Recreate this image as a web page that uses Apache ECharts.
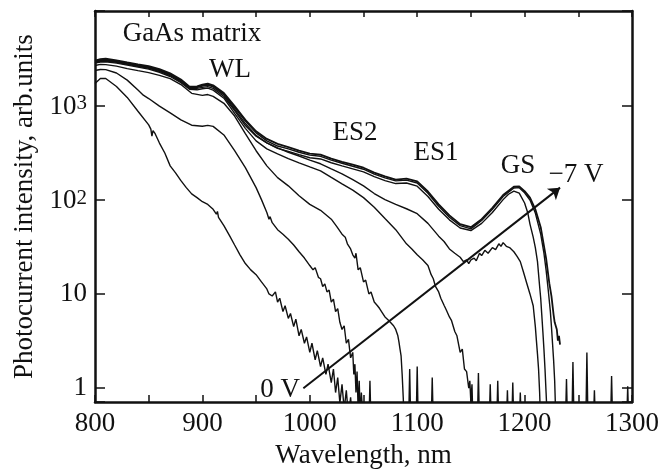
<!DOCTYPE html>
<html>
<head>
<meta charset="utf-8">
<title>Photocurrent spectra</title>
<script src="https://cdn.jsdelivr.net/npm/echarts@6.0.0/dist/echarts.min.js"></script>
</head>
<body style="margin:0">
	<div id="main" style="width: 666px; height: 474px;"></div>
	<script type="text/javascript">
		// spectra, [wavelength nm, photocurrent arb.units]
		var curve0V = [[800,1706],[805,1924],[810,1924],[820,1585],[830,1213],[840,865],[850,620],[852,560],[853,470],[854,540],[856,500],[860,398],[865,312],[870,228],[875,192],[880,159],[885,134],[890,115],[895,105],[900,95],[905,89],[910,79],[913,70],[914,75],[915,65],[920,53],[925,42],[930,33],[935,26],[940,21],[945,18],[950,16],[955,13.4],[960,11.3],[962,10],[965,9.5],[968,10.5],[970,8.2],[972,9],[975,6.5],[977,7.5],[980,5.5],[982,6.2],[985,4.5],[987,5.4],[990,3.6],[992,4.2],[995,3.0],[997,3.5],[1000,2.4],[1002,3.0],[1005,2.0],[1007,2.5],[1010,1.7],[1012,2.1],[1015,1.4],[1017,1.8],[1020,1.15],[1022,1.6],[1024,0.9],[1026,1.3],[1028,0.7],[1030,1.1],[1032,0.6],[1034,0.95],[1036,0.5],[1038,0.8],[1040,0.4],[1042,0.7],[1045,0.4]];
		var curve1V = [[800,2340],[805,2400],[810,2390],[820,2200],[830,1850],[840,1450],[845,1280],[850,1180],[860,980],[870,830],[880,700],[890,615],[900,600],[905,612],[910,598],[920,485],[930,330],[940,218],[950,134],[955,100],[960,73],[962,62],[963,66],[965,57],[970,48],[975,43],[980,38],[985,33],[990,28],[995,24],[1000,20],[1003,18],[1005,19],[1008,15],[1010,14.5],[1012,12],[1014,12.8],[1016,10.5],[1018,11],[1020,8.2],[1022,8.8],[1024,6.5],[1026,7],[1028,5],[1030,4.2],[1032,4.6],[1034,3],[1036,3.3],[1038,2.1],[1040,2.4],[1041,1.4],[1042,1.8],[1043,0.9],[1044,1.5],[1045,0.6],[1046,1.2],[1047,0.5],[1048,0.9],[1050,0.4],[1055,0.4],[1056,1.2],[1057,0.4],[1060,0.4]];
		var curve2V = [[800,2640],[805,2720],[810,2700],[820,2600],[830,2450],[840,2330],[850,2220],[860,2080],[870,1920],[880,1660],[890,1340],[900,1275],[905,1300],[910,1245],[920,1050],[930,770],[940,500],[950,330],[960,228],[970,171],[980,140],[990,110],[1000,89],[1010,77],[1020,62],[1025,52],[1030,43],[1033,40],[1035,34],[1038,30],[1040,26],[1042,24],[1043,27],[1045,18],[1047,19],[1050,13.4],[1052,14],[1055,10],[1057,10.5],[1060,8.2],[1063,7.5],[1065,7],[1068,6.2],[1070,5.7],[1073,5.3],[1075,5],[1078,4.6],[1080,4.2],[1082,3.6],[1083,3.1],[1084,2.6],[1085,2.2],[1086,1.4],[1087,0.8],[1088,0.4],[1092,0.4],[1093,1.6],[1094,0.4],[1099,0.4],[1100,1.7],[1101,0.4],[1113,0.4],[1114,1.3],[1115,0.4],[1120,0.4]];
		var curve3V = [[800,2800],[805,2880],[810,2900],[820,2800],[830,2670],[840,2540],[850,2420],[860,2240],[870,2020],[880,1740],[888,1480],[895,1460],[900,1500],[905,1520],[910,1450],[920,1190],[930,820],[940,570],[950,420],[960,345],[970,305],[980,272],[990,245],[1000,222],[1010,202],[1020,172],[1030,147],[1040,126],[1050,105],[1060,83],[1070,63],[1080,48],[1090,34],[1095,30],[1100,26],[1105,23],[1110,20],[1113,16],[1115,14.5],[1117,12],[1120,10.5],[1122,9],[1125,7.6],[1127,6.8],[1130,5.7],[1132,5.2],[1135,4],[1137,3.6],[1140,2.4],[1142,2.6],[1144,1.6],[1146,1.5],[1148,1.0],[1149,1.2],[1150,0.7],[1151,1.1],[1152,0.4],[1156,0.4],[1157,1.45],[1158,0.4],[1167,0.4],[1168,1.1],[1169,0.4],[1174,0.4],[1175,1.2],[1176,0.4],[1183,0.4],[1184,0.95],[1185,0.4],[1188,0.4],[1189,1.15],[1190,0.4],[1195,0.4],[1196,0.9],[1197,0.4],[1200,0.4]];
		var curve4V = [[800,2840],[805,2930],[810,2950],[820,2850],[830,2720],[840,2590],[850,2470],[860,2290],[870,2060],[880,1780],[888,1510],[895,1510],[900,1550],[905,1580],[910,1510],[920,1240],[930,880],[940,610],[950,470],[960,400],[970,353],[980,318],[990,290],[1000,262],[1010,240],[1020,212],[1030,188],[1040,163],[1050,140],[1060,116],[1070,100],[1080,89],[1090,80],[1100,71],[1110,56],[1120,41],[1125,36],[1130,30],[1135,27],[1140,24.5],[1143,22],[1146,23],[1148,21],[1150,23],[1153,24],[1155,22.5],[1158,27],[1160,25.5],[1163,29],[1166,27],[1170,31],[1173,29.5],[1176,34],[1178,32],[1180,35],[1183,32],[1186,31],[1190,28],[1193,25],[1196,22],[1199,17],[1202,13],[1205,10],[1208,7.5],[1210,4.5],[1211,3.2],[1212,2.3],[1213,1.6],[1214,0.9],[1215,0.4],[1238,0.4],[1239,1.25],[1240,0.4],[1244,0.4],[1245,1.9],[1246,0.45],[1257,0.4],[1258,2.4],[1259,0.45],[1264,0.4],[1265,0.95],[1266,0.4],[1280,0.4],[1281,1.35],[1282,0.4],[1295,0.4],[1296,1.05],[1297,0.4],[1300,0.4]];
		var curve5V = [[800,2880],[805,2980],[810,3000],[820,2900],[830,2760],[840,2630],[850,2510],[860,2340],[870,2110],[880,1820],[888,1540],[895,1550],[900,1600],[905,1640],[910,1570],[920,1290],[930,910],[940,640],[950,480],[960,400],[970,350],[980,325],[990,300],[1000,278],[1010,270],[1020,246],[1030,228],[1040,212],[1050,197],[1060,175],[1070,159],[1080,148],[1090,150],[1100,139],[1110,108],[1120,79],[1130,61],[1140,50],[1150,47],[1160,56],[1170,73],[1180,100],[1185,114],[1190,123],[1195,117],[1200,92],[1203,72],[1205,55],[1208,40],[1210,31],[1212,22],[1214,12],[1215,9],[1216,6],[1217,4],[1218,2.6],[1219,1.6],[1220,0.9],[1221,0.5]];
		var curve6V = [[800,2930],[805,3030],[810,3060],[820,2950],[830,2800],[840,2670],[850,2550],[860,2380],[870,2140],[880,1850],[888,1560],[895,1570],[900,1630],[905,1670],[910,1600],[920,1320],[930,950],[940,680],[950,510],[960,420],[970,370],[980,345],[990,318],[1000,296],[1010,288],[1020,262],[1030,243],[1040,226],[1050,210],[1060,186],[1070,170],[1080,158],[1090,161],[1100,150],[1110,117],[1120,85],[1130,65],[1140,53],[1150,49],[1160,60],[1170,79],[1180,108],[1190,133],[1195,134],[1200,118],[1205,99],[1210,72],[1215,43],[1218,27],[1220,18],[1222,11],[1224,6.5],[1225,4.5],[1226,3],[1227,2],[1228,1.2],[1229,0.5]];
		var curve7V = [[800,2980],[805,3080],[810,3120],[820,3000],[830,2850],[840,2720],[850,2600],[860,2420],[870,2180],[880,1880],[888,1580],[895,1590],[900,1660],[905,1700],[910,1630],[920,1350],[930,980],[940,700],[950,530],[960,440],[970,390],[980,360],[990,330],[1000,308],[1010,300],[1020,272],[1030,252],[1040,235],[1050,218],[1060,193],[1070,176],[1080,163],[1090,167],[1100,156],[1110,122],[1120,89],[1130,68],[1140,55],[1150,51],[1160,62],[1170,82],[1180,112],[1190,137],[1195,138],[1200,123],[1205,105],[1210,79],[1215,51],[1220,24],[1223,13],[1225,9.5],[1227,6],[1228,5],[1230,4.2],[1231,3.2],[1232,3.6],[1233,2.9]];

		var curveNames = ['0 V', '-1 V', '-2 V', '-3 V', '-4 V', '-5 V', '-6 V', '-7 V'];
		var curves = [curve0V, curve1V, curve2V, curve3V, curve4V, curve5V, curve6V, curve7V];

		// bias arrow from 0 V to -7 V
		var arrowFrom = [994, 1];
		var arrowTo = [1233, 134];

		var xTicks = [800, 900, 1000, 1100, 1200, 1300];
		var yTicks = [1, 10, 100, 1000];

		var font = '"Liberation Serif", "DejaVu Serif", serif';
		var ink = '#111111';

		var myChart = echarts.init(document.getElementById('main'));

		var series = [];
		for (var i = 0; i < curves.length; i++) {
			var s = {
				name: curveNames[i],
				type: 'line',
				data: curves[i],
				showSymbol: false,
				symbol: 'none',
				clip: true,
				silent: true,
				lineStyle: { color: ink, width: i == curves.length - 1 ? 1.8 : 1.4 }
			};
			if (i == curves.length - 1) {
				s.markLine = {
					silent: true,
					symbol: ['none', 'arrow'],
					symbolSize: 11,
					label: { show: false },
					lineStyle: { color: ink, width: 2, type: 'solid' },
					data: [[{ coord: arrowFrom }, { coord: arrowTo }]]
				};
			}
			series.push(s);
		}

		var xLabel = function (v) {
			return xTicks.indexOf(v) >= 0 ? String(v) : '';
		};
		var yLabel = function (v) {
			for (var k = 0; k < yTicks.length; k++) {
				if (Math.abs(v - yTicks[k]) < yTicks[k] * 0.01) {
					if (k < 2) return String(yTicks[k]);
					return '{b|10}{s|' + k + '}';
				}
			}
			return '';
		};

		var frame = { show: true, lineStyle: { color: ink, width: 2.5 } };

		option = {
			animation: false,
			textStyle: { fontFamily: font, color: ink },
			grid: { left: 95, right: 34, top: 11, bottom: 68 },
			xAxis: [{
				type: 'value', min: 800, max: 1300, interval: 50,
				name: 'Wavelength, nm', nameLocation: 'middle', nameGap: 34,
				nameTextStyle: { fontSize: 27, fontFamily: font, color: ink },
				axisLine: frame,
				axisTick: { inside: true, length: 7, lineStyle: { color: ink, width: 1.5 } },
				axisLabel: { formatter: xLabel, fontSize: 27, fontFamily: font, color: ink, margin: 8 },
				splitLine: { show: false }
			}, {
				type: 'value', min: 800, max: 1300, interval: 50, position: 'top',
				axisLine: frame,
				axisTick: { inside: true, length: 6, lineStyle: { color: ink, width: 1.5 } },
				axisLabel: { show: false },
				splitLine: { show: false }
			}],
			yAxis: [{
				type: 'log', min: 0.713, max: 10000, logBase: 10,
				name: 'Photocurrent intensity, arb.units', nameLocation: 'middle', nameGap: 56,
				nameTextStyle: { fontSize: 27, fontFamily: font, color: ink },
				axisLine: frame,
				axisTick: { inside: true, length: 10, lineStyle: { color: ink, width: 1.5 } },
				axisLabel: {
					formatter: yLabel, fontSize: 27, fontFamily: font, color: ink, margin: 8,
					rich: {
						b: { fontSize: 27, fontFamily: font, color: ink, verticalAlign: 'bottom', padding: [3, 0, 0, 0] },
						s: { fontSize: 21, fontFamily: font, color: ink, verticalAlign: 'bottom', padding: [0, 0, 6, 0] }
					}
				},
				splitLine: { show: false }
			}, {
				type: 'log', min: 0.713, max: 10000, logBase: 10, position: 'right',
				axisLine: frame,
				axisTick: { inside: true, length: 10, lineStyle: { color: ink, width: 1.5 } },
				axisLabel: { show: false },
				splitLine: { show: false }
			}],
			graphic: [
				{ type: 'text', x: 192, y: 34, style: { text: 'GaAs matrix', font: '27px ' + font, fill: ink, textAlign: 'center', textVerticalAlign: 'middle' } },
				{ type: 'text', x: 230, y: 70, style: { text: 'WL', font: '27px ' + font, fill: ink, textAlign: 'center', textVerticalAlign: 'middle' } },
				{ type: 'text', x: 355, y: 133, style: { text: 'ES2', font: '27px ' + font, fill: ink, textAlign: 'center', textVerticalAlign: 'middle' } },
				{ type: 'text', x: 436, y: 153, style: { text: 'ES1', font: '27px ' + font, fill: ink, textAlign: 'center', textVerticalAlign: 'middle' } },
				{ type: 'text', x: 518, y: 166, style: { text: 'GS', font: '27px ' + font, fill: ink, textAlign: 'center', textVerticalAlign: 'middle' } },
				{ type: 'text', x: 576, y: 175, style: { text: '\u22127 V', font: '27px ' + font, fill: ink, textAlign: 'center', textVerticalAlign: 'middle' } },
				{ type: 'text', x: 280, y: 390, style: { text: '0 V', font: '27px ' + font, fill: ink, textAlign: 'center', textVerticalAlign: 'middle' } }
			],
			series: series
		};
		myChart.setOption(option);
	</script>
</body>
</html>
